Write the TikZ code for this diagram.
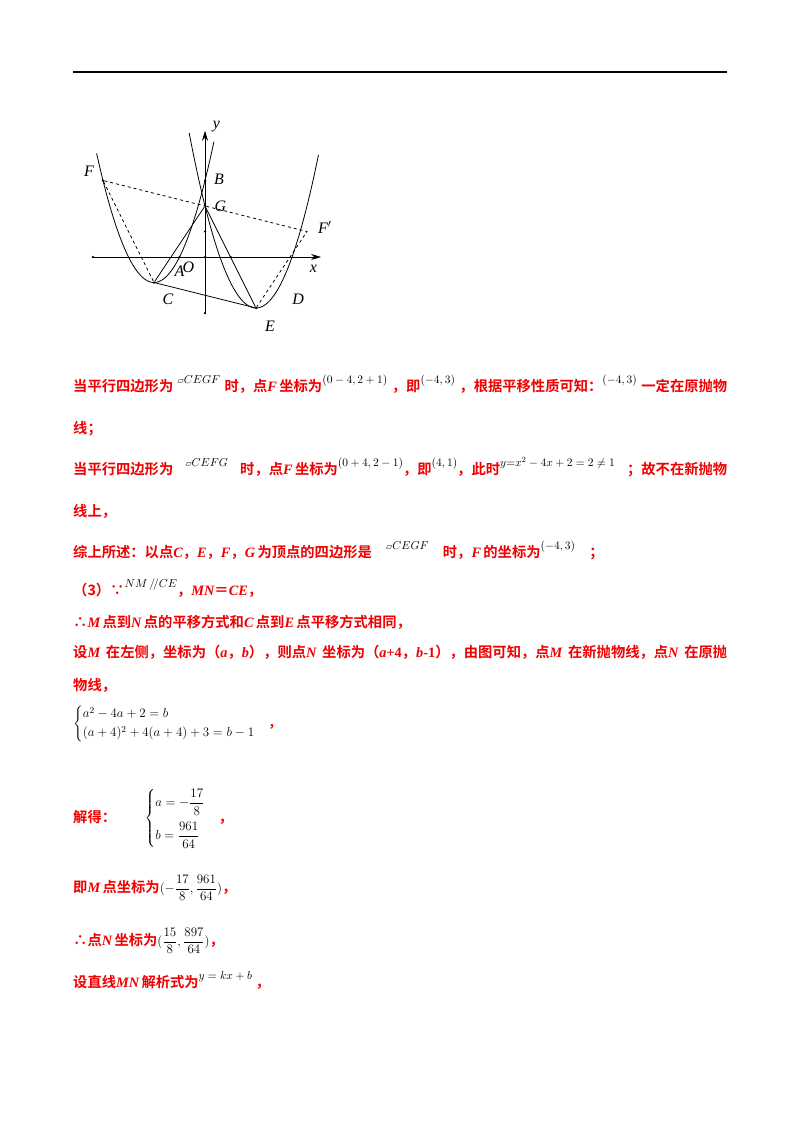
\RequirePackage{fix-cm}
\documentclass[tikz,border=0pt]{standalone}
\usepackage{amsmath}
\usepackage{fontspec}
\setmainfont{Liberation Serif}
\newfontfamily\cjk{Noto Sans CJK SC}[BoldFont={* Bold}]
\newfontfamily\dvs{DejaVu Sans}
\usetikzlibrary{arrows.meta}
\definecolor{rd}{RGB}{240,0,0}
\newcommand{\zh}[1]{{\cjk\bfseries #1}}
\newcommand{\vl}[1]{{\bfseries\itshape #1}}
\newcommand{\up}[1]{\raisebox{1.1ex}{\color{black}\fontsize{11.5}{14}\selectfont #1}}
\newcommand{\pg}{{\dvs\fontsize{8}{9}\selectfont ▱}}
\newcommand{\gp}{\hspace{0pt plus 1fill}}
\newcommand{\full}[1]{\makebox[654pt][s]{#1}}
\begin{document}
\begin{tikzpicture}[x=1pt,y=-1pt,
  txt/.style={anchor=base west,inner sep=0pt,text=rd,font=\fontsize{14.3}{17}\selectfont},
  lbl/.style={font=\itshape\fontsize{16}{18}\selectfont,inner sep=1pt},
  dot/.style={circle,fill=black,inner sep=0pt,minimum size=2.5pt}]
\useasboundingbox (0,0) rectangle (800,1132);
\fill[white] (0,0) rectangle (800,1132);
\draw[line width=1.2pt] (73,72) -- (727,72);
% graph
\begin{scope}[shift={(205,257)},x=25.5pt,y=25.5pt]
 \draw[line width=0.7pt,-{Stealth[length=10pt,width=6pt]}] (-4.4,0) -- (4.55,0);
 \draw[line width=0.7pt,-{Stealth[length=10pt,width=6pt]}] (0,-2.2) -- (0,4.95);
 \draw[line width=0.8pt,domain=-4.25:0.35,samples=80] plot (\x,{\x*\x+4*\x+3});
 \draw[line width=0.8pt,domain=-0.62:4.45,samples=80] plot (\x,{\x*\x-4*\x+2});
 \node[dot] (C) at (-2,-1) {};
 \node[dot] (E) at (2,-2) {};
 \node[dot] (G) at (0,2) {};
 \node[dot] (B) at (0,3) {};
 \node[dot] (F) at (-4,3) {};
 \coordinate (Fp) at (4,1);
 \node[dot] (A) at (-1,0) {};
 \node[dot] (xl) at (-4.4,0) {};
 \node[dot] (yb) at (0,-2.2) {};
 \node[dot] (y1) at (0,1) {};
 \node[dot] (x1) at (1,0) {};
 \node[dot] (O) at (0,0) {};
 \draw[line width=0.8pt] (C) -- (E) -- (G) -- (C);
 \draw[line width=0.8pt,dashed] (F) -- (G) -- (Fp) -- (E);
 \draw[line width=0.8pt,dashed] (F) -- (C);
 \node[lbl] at (0.45,5.1) {y};
 \node[lbl] at (4.25,-0.45) {x};
 \node[lbl] at (0.55,3.05) {B};
 \node[lbl] at (0.6,2.0) {G};
 \node[lbl] at (-4.55,3.35) {F};
 \node[lbl] at (4.7,1.15) {F$'$};
 \node[lbl] at (-1.0,-0.55) {A};
 \node[lbl] at (-0.65,-0.4) {O};
 \node[lbl] at (-1.45,-1.65) {C};
 \node[lbl] at (2.55,-2.7) {E};
 \node[lbl] at (3.65,-1.65) {D};
\end{scope}
% text
\node[txt] (t1) at (73,391) {\full{\zh{当平行四边形为}\gp\up{\pg$CEGF$}\gp\zh{时，点}\vl{F}\,\zh{坐标为}\up{$(0-4,2+1)$}\gp\zh{，即}\up{$(-4,3)$}\gp\zh{，根据平移性质可知：}\up{$(-4,3)$}\gp\zh{一定在原抛物}}};
\node[txt] (t2) at (73,433) {\zh{线；}};
\node[txt] (t3) at (73,474) {\full{\zh{当平行四边形为}\gp\up{\pg$CEFG$}\gp\zh{时，点}\vl{F}\,\zh{坐标为}\up{$(0+4,2-1)$}\zh{，即}\up{$(4,1)$}\zh{，此时}\up{$y{=}x^2-4x+2=2\neq1$}\gp\zh{；故不在新抛物}}};
\node[txt] (t4) at (73,516) {\zh{线上，}};
\node[txt] (t5) at (73,557) {\zh{综上所述：以点}\vl{C}\zh{，}\vl{E}\zh{，}\vl{F}\zh{，}\vl{G}\,\zh{为顶点的四边形是}\quad\up{\pg$CEGF$}\quad\zh{时，}\vl{F}\,\zh{的坐标为}\up{$(-4,3)$}\quad\zh{；}};
\node[txt] (t6) at (73,595) {\zh{（3）∵}\up{$NM\,/\!/CE$}\zh{，}\vl{MN}\zh{＝}\vl{CE}\zh{，}};
\node[txt] (t7) at (73,627) {\zh{∴}\vl{M}\,\zh{点到}\vl{N}\,\zh{点的平移方式和}\vl{C}\,\zh{点到}\vl{E}\,\zh{点平移方式相同，}};
\node[txt] (t8) at (73,657) {\full{\zh{设}\vl{M}\gp\zh{在左侧，坐标为（}\vl{a}\zh{，}\vl{b}\zh{），则点}\vl{N}\gp\zh{坐标为（}\vl{a}\textbf{+4}\zh{，}\vl{b}\textbf{-1}\zh{），由图可知，点}\vl{M}\gp\zh{在新抛物线，点}\vl{N}\gp\zh{在原抛}}};
\node[txt] (t9) at (73,690) {\zh{物线，}};
\node[txt] (t10) at (73,727) {\color{black}\fontsize{13}{15}\selectfont$\begin{cases}a^2-4a+2=b\\[1pt](a+4)^2+4(a+4)+3=b-1\end{cases}$\color{rd}\zh{，}};
\node[txt] (t11) at (73,822) {\zh{解得：}\qquad{\color{black}\fontsize{13}{15}\selectfont$\begin{cases}a=-\dfrac{17}{8}\\[10pt]b=\dfrac{961}{64}\end{cases}$}\zh{，}};
\node[txt] (t12) at (73,892) {\zh{即}\vl{M}\,\zh{点坐标为}{\color{black}\fontsize{13}{15}\selectfont$(-\dfrac{17}{8},\dfrac{961}{64})$}\zh{，}};
\node[txt] (t13) at (73,945) {\zh{∴点}\vl{N}\,\zh{坐标为}{\color{black}\fontsize{13}{15}\selectfont$(\dfrac{15}{8},\dfrac{897}{64})$}\zh{，}};
\node[txt] (t14) at (73,987) {\zh{设直线}\vl{MN}\,\zh{解析式为}\up{$y=kx+b$}\ \zh{，}};
\end{tikzpicture}
\end{document}
